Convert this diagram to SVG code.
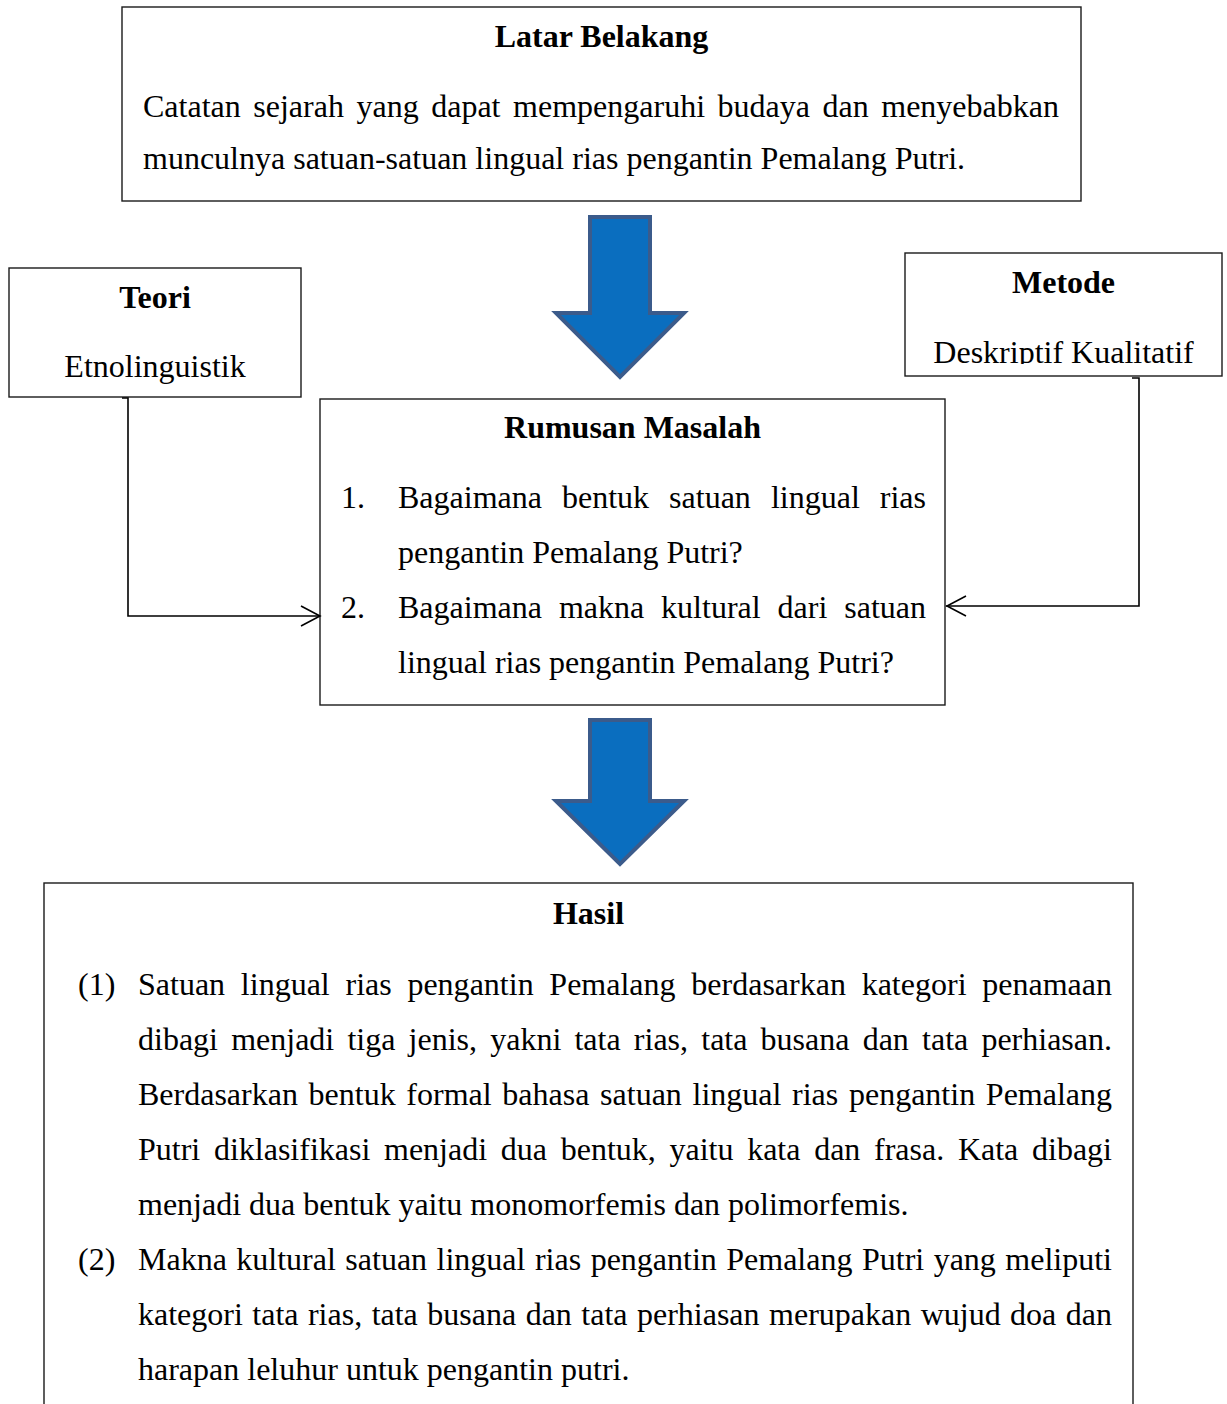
<svg xmlns="http://www.w3.org/2000/svg" width="1227" height="1404" viewBox="0 0 1227 1404">
<style>
.box{fill:#fff;stroke:#1a1a1a;stroke-width:1.4}
.t{font-family:"Liberation Serif","Times New Roman",serif;font-size:32px;fill:#000}
.b{font-weight:bold;text-anchor:middle}
.c{text-anchor:middle}
.arrow{fill:#0a6ebf;stroke:#3b5b8b;stroke-width:4;stroke-linejoin:miter}
.conn{fill:none;stroke:#000;stroke-width:1.6}
</style>
<defs>
<clipPath id="metClip"><rect x="905" y="253" width="317" height="111"/></clipPath>
</defs>
<rect width="1227" height="1404" fill="#fff"/>

<g id="latar-belakang">
<rect class="box" x="122" y="7" width="959" height="194"/>
<text class="t b" x="601.5" y="47">Latar Belakang</text>
<text class="t" x="143" y="117" word-spacing="4.5" textLength="916" lengthAdjust="spacing">Catatan sejarah yang dapat mempengaruhi budaya dan menyebabkan</text>
<text class="t" x="143" y="169">munculnya satuan-satuan lingual rias pengantin Pemalang Putri.</text>
</g>

<g id="teori">
<rect class="box" x="9" y="268" width="292" height="129"/>
<text class="t b" x="155" y="308">Teori</text>
<text class="t c" x="155" y="377">Etnolinguistik</text>
</g>

<g id="metode">
<rect class="box" x="905" y="253" width="317" height="123"/>
<text class="t b" x="1063.5" y="293">Metode</text>
<text class="t c" x="1063.5" y="363" clip-path="url(#metClip)">Deskriptif Kualitatif</text>
</g>

<g id="rumusan-masalah">
<rect class="box" x="320" y="399" width="625" height="306"/>
<text class="t b" x="632.5" y="438">Rumusan Masalah</text>
<text class="t" x="341" y="508">1.</text>
<text class="t" x="398" y="508" word-spacing="12" textLength="528" lengthAdjust="spacing">Bagaimana bentuk satuan lingual rias</text>
<text class="t" x="398" y="563">pengantin Pemalang Putri?</text>
<text class="t" x="341" y="618">2.</text>
<text class="t" x="398" y="618" word-spacing="8.9" textLength="528" lengthAdjust="spacing">Bagaimana makna kultural dari satuan</text>
<text class="t" x="398" y="673">lingual rias pengantin Pemalang Putri?</text>
</g>

<g id="hasil">
<rect class="box" x="44" y="883" width="1089" height="530"/>
<text class="t b" x="588.5" y="924">Hasil</text>
<text class="t" x="78" y="995">(1)</text>
<text class="t" x="138" y="995" word-spacing="7.7" textLength="974" lengthAdjust="spacing">Satuan lingual rias pengantin Pemalang berdasarkan kategori penamaan</text>
<text class="t" x="138" y="1050" word-spacing="5.2" textLength="974" lengthAdjust="spacing">dibagi menjadi tiga jenis, yakni tata rias, tata busana dan tata perhiasan.</text>
<text class="t" x="138" y="1105" word-spacing="2.7" textLength="974" lengthAdjust="spacing">Berdasarkan bentuk formal bahasa satuan lingual rias pengantin Pemalang</text>
<text class="t" x="138" y="1160" word-spacing="5.7" textLength="974" lengthAdjust="spacing">Putri diklasifikasi menjadi dua bentuk, yaitu kata dan frasa. Kata dibagi</text>
<text class="t" x="138" y="1215">menjadi dua bentuk yaitu monomorfemis dan polimorfemis.</text>
<text class="t" x="78" y="1270">(2)</text>
<text class="t" x="138" y="1270" word-spacing="1.5" textLength="974" lengthAdjust="spacing">Makna kultural satuan lingual rias pengantin Pemalang Putri yang meliputi</text>
<text class="t" x="138" y="1325" word-spacing="1.5" textLength="974" lengthAdjust="spacing">kategori tata rias, tata busana dan tata perhiasan merupakan wujud doa dan</text>
<text class="t" x="138" y="1380">harapan leluhur untuk pengantin putri.</text>
</g>

<g id="connectors">
<polygon class="arrow" points="590,217 650,217 650,313 684,313 620,377 556,313 590,313"/>
<polygon class="arrow" points="590,720 650,720 650,801 684,801 620,864 556,801 590,801"/>
<path class="conn" d="M122,398 H128 V616 H319"/>
<path class="conn" d="M301,606 L320,616 L301,626"/>
<path class="conn" d="M1132,378 H1139 V606 H946"/>
<path class="conn" d="M966,596 L947,606 L966,616"/>
</g>
</svg>
